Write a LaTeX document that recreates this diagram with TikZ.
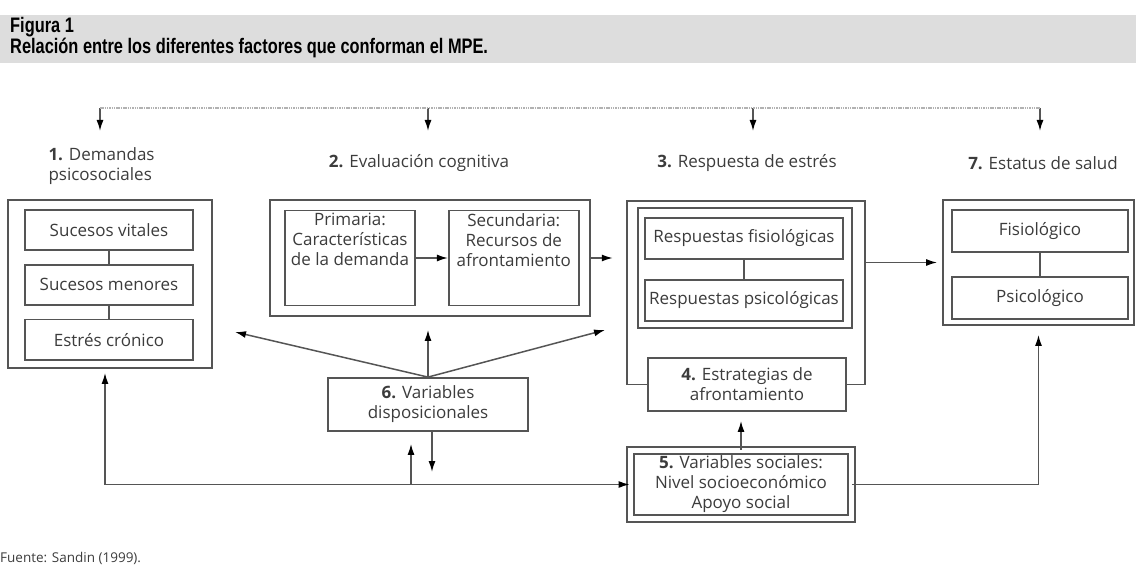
\documentclass[tikz,border=0pt]{standalone}
\usepackage{fontspec}
\setmainfont{Open Sans}
\newfontfamily\titlefont[FakeStretch=0.78]{Liberation Sans Bold}
\usetikzlibrary{positioning,arrows.meta}

\definecolor{boxgray}{HTML}{555555}
\definecolor{txtgray}{HTML}{3C3C3C}
\definecolor{band}{HTML}{DDDDDD}

\begin{document}
\begin{tikzpicture}[
        x=1pt, y=-1pt,
        frame/.style={draw=boxgray, line width=1.8pt},
        inbox/.style={draw=boxgray, line width=1.8pt, fill=white, align=center, text=txtgray, font=\fontsize{17}{20}\selectfont, inner sep=1pt},
        lbl/.style={text=txtgray, align=center, font=\fontsize{17}{20}\selectfont},
        bus/.style={draw=gray!60, line width=2pt, dash pattern=on 1.5pt off 0.8pt},
        arr/.style={draw=boxgray, line width=1.5pt},
        >={Latex[length=11pt,width=7pt,color=black]},
        node distance=13pt
        ]

        \useasboundingbox (0,0) rectangle (1136,572);

        % title
        \fill[band] (0,15) rectangle (1136,63);
        \node[anchor=west, align=left, inner sep=0pt, font=\titlefont\fontsize{21}{21}\selectfont] (tit) at (10,38) {Figura 1\\Relación entre los diferentes factores que conforman el MPE.};

        % 1. demandas
        \node[frame, minimum width=204pt, minimum height=168pt] (dem) at (110,284) {};
        \node[inbox, minimum width=168pt, minimum height=40pt] (vit) at (109,230) {Sucesos vitales};
        \node[inbox, minimum width=168pt, minimum height=40pt] (men) [below=of vit] {Sucesos menores};
        \node[inbox, minimum width=168pt, minimum height=40pt] (cro) [below=of men] {Estrés crónico};

        % 2. evaluacion
        \node[frame, minimum width=320pt, minimum height=116pt] (eva) at (430,258) {};
        \node[inbox, minimum width=130pt, minimum height=95pt] (pri) at (350,258) {};
        \node[inbox, minimum width=130pt, minimum height=95pt] (sec) [right=32pt of pri] {};
        \node[lbl] (prit) [below=0pt of pri.north] {Primaria:\\Características\\de la demanda};
        \node[lbl] (sect) [below=0pt of sec.north] {Secundaria:\\Recursos de\\afrontamiento};

        % 3. respuesta + 4. estrategias
        \node[minimum width=238pt, minimum height=183pt] (res) at (746,292.5) {};
        \node[frame, minimum width=214pt, minimum height=120pt] (rin) at (745,268) {};
        \node[inbox, minimum width=198pt, minimum height=41pt] (fis) at (744,238.5) {Respuestas fisiológicas};
        \node[inbox, minimum width=198pt, minimum height=41pt] (psi) [below=19pt of fis] {Respuestas psicológicas};
        \node[inbox, minimum width=198pt, minimum height=53pt] (est) at (747,384.5) {\textbf{4.} Estrategias de\\afrontamiento};

        % 7. salud
        \node[frame, minimum width=191pt, minimum height=125pt] (sal) at (1038.5,262.5) {};
        \node[inbox, minimum width=176pt, minimum height=42pt] (fisi) at (1040,231) {Fisiológico};
        \node[inbox, minimum width=176pt, minimum height=42pt] (psic) [below=23pt of fisi] {Psicológico};

        % 6. and 5.
        \node[inbox, minimum width=200pt, minimum height=53pt] (dis) at (428,404.5) {\textbf{6.} Variables\\disposicionales};
        \node[inbox, double=white, double distance=4.5pt, minimum width=221pt, minimum height=68pt] (soc) at (741,484.5) {\textbf{5.} Variables sociales:\\Nivel socioeconómico\\Apoyo social};

        % headings
        \node[lbl, anchor=north west, align=left] (l1) at (45,144) {\textbf{1.} Demandas\\psicosociales};
        \node[lbl] (l2) at (419,163) {\textbf{2.} Evaluación cognitiva};
        \node[lbl] (l3) at (747,163) {\textbf{3.} Respuesta de estrés};
        \node[lbl] (l7) at (1043,163) {\textbf{7.} Estatus de salud};

        \node[anchor=west, inner sep=0pt, text=txtgray, font=\fontsize{13.5}{15}\selectfont] (src) at (0,558) {Fuente: Sandin (1999).};

        %Lines
        \foreach \n/\x in {1/100,2/428,3/753,7/1040} {
            \coordinate (top\n) at (\x,108);
            \coordinate (tip\n) at (\x,131);
            \draw[arr, ->] (top\n) -- (tip\n);
        }
        \draw[bus] (top1) -- (top7);

        \draw[frame] (vit) -- (men);
        \draw[frame] (men) -- (cro);
        \draw[frame] (fis) -- (psi);
        \draw[frame] (fisi) -- (psic);
        \draw[frame] (est.west) -| (res.north west) -| (res.east |- est.east) -- (est.east);

        \draw[arr, ->] (pri) -- (sec);
        \draw[arr, ->, shorten >=14pt] (eva.east) -- (eva.east -| res.west);
        \draw[arr, ->, shorten >=5pt] (res.east |- sal.west) -- (sal.west);

        \coordinate (toL) at (235,332);
        \coordinate (toR) at (605,330);
        \draw[arr, ->] (dis.north) -- (toL);
        \draw[arr, ->] (dis.north) -- (toR);
        \draw[arr, ->, shorten >=13pt] (dis.north) -- (dis.north |- eva.south);

        \coordinate (lp) at ([xshift=-5pt]dem.south);
        \draw[arr, <->, shorten <=4pt] (lp) |- (soc.west);
        \coordinate (up6) at ([xshift=-17pt]dis.south);
        \draw[arr, ->, shorten >=12pt] (up6 |- soc.west) -- (up6);
        \coordinate (dn6) at ([xshift=4pt]dis.south);
        \coordinate (dn6e) at (432,472);
        \draw[arr, ->] (dn6) -- (dn6e);
        \draw[arr, ->, shorten >=9pt] (soc.north) -- (soc.north |- est.south);
        \draw[arr, ->, shorten >=9pt] (soc.east) -| (sal.south);

    \end{tikzpicture}
\end{document}
